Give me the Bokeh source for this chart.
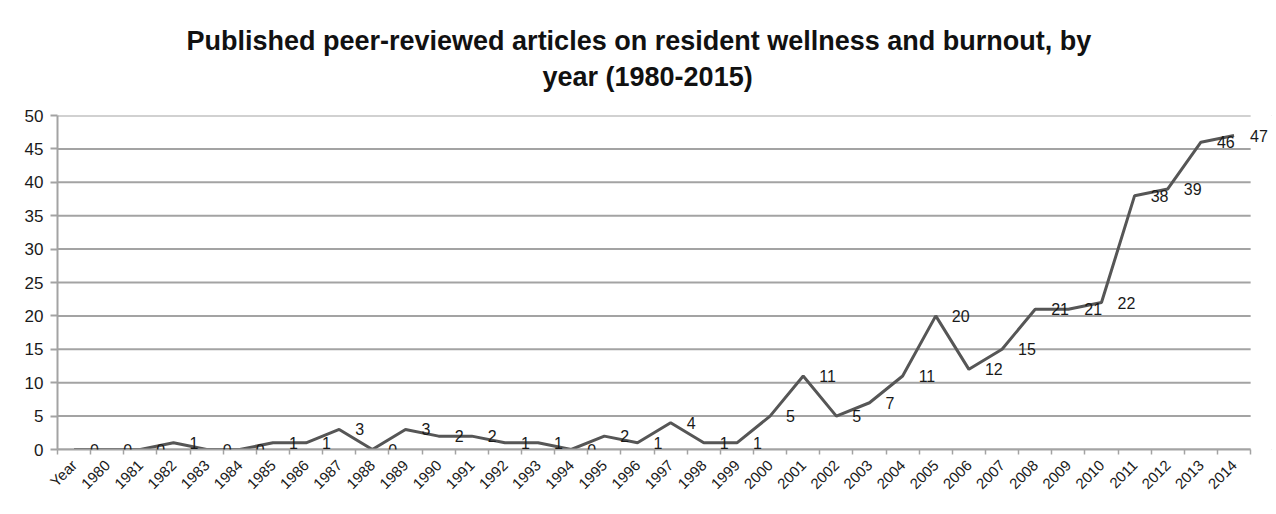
import math
from bokeh.plotting import figure
from bokeh.models import (FixedTicker, CustomJSTickFormatter, Title, ColumnDataSource,
                          Range1d, LabelSet)
from bokeh.embed import file_html
from bokeh.resources import INLINE
from bokeh.core.properties import value

categories = ["Year", "1980", "1981", "1982", "1983", "1984", "1985", "1986", "1987",
              "1988", "1989", "1990", "1991", "1992", "1993", "1994", "1995", "1996",
              "1997", "1998", "1999", "2000", "2001", "2002", "2003", "2004", "2005",
              "2006", "2007", "2008", "2009", "2010", "2011", "2012", "2013", "2014"]
counts = [0, 0, 0, 1, 0, 0, 1, 1, 3, 0, 3, 2, 2, 1, 1, 0, 2, 1, 4, 1, 1, 5, 11, 5, 7,
          11, 20, 12, 15, 21, 21, 22, 38, 39, 46, 47]
y_ticks = [0, 5, 10, 15, 20, 25, 30, 35, 40, 45, 50]
title_line1 = "Published peer-reviewed articles on resident wellness and burnout, by"
title_line2 = "year (1980-2015)"

n = len(categories)
centers = [i + 0.5 for i in range(n)]
src = ColumnDataSource(dict(x=centers, y=counts, lbl=[str(c) for c in counts]))
grid_src = ColumnDataSource(dict(x0=[0] * len(y_ticks), x1=[n] * len(y_ticks),
                                 y=y_ticks))

FONT = "Liberation Sans"
GRID = "#a3a3a3"
TXT = "#1a1a1a"

# frame: x 57..1272 px, y 115..449 px ; one category ~33.14 px
p = figure(width=1276, height=514, x_range=Range1d(0, n + 0.66), y_range=Range1d(0, 50),
           output_backend="svg", toolbar_location=None,
           min_border_left=57, min_border_right=4, min_border_top=115,
           min_border_bottom=65)
p.outline_line_color = None
p.background_fill_color = "white"
p.border_fill_color = "white"
p.styles = {"outline": "1px solid #c8c8c8", "outline-offset": "-5px"}

# titles
p.title.text = title_line1
p.title.align = "left"
p.title.offset = 129
p.title.text_font = FONT
p.title.text_font_size = "27px"
p.title.text_font_style = "bold"
p.title.text_color = "#111111"
p.title.standoff = -40
t2 = Title(text=title_line2, align="left", offset=485, text_font=FONT,
           text_font_size="27px", text_font_style="bold", text_color="#111111",
           standoff=48)
p.add_layout(t2, "above")

# horizontal gridlines limited to the category span
p.segment(x0="x0", x1="x1", y0="y", y1="y", source=grid_src, line_color=GRID,
          line_width=2)

# line + labels
p.line("x", "y", source=src, line_color="#565656", line_width=3)
labels = LabelSet(x="x", y="y", text="lbl", source=src, x_offset=16,
                  text_align="left", text_baseline="middle",
                  text_font=value(FONT), text_font_size="16px", text_color=TXT)
p.add_layout(labels)

# y axis
p.yaxis.ticker = FixedTicker(ticks=y_ticks)
p.yaxis.axis_line_color = GRID
p.yaxis.axis_line_width = 2
p.yaxis.major_tick_line_color = GRID
p.yaxis.major_tick_line_width = 2
p.yaxis.major_tick_out = 7
p.yaxis.major_tick_in = 0
p.yaxis.minor_tick_line_color = None
p.yaxis.major_label_text_font = FONT
p.yaxis.major_label_text_font_size = "17px"
p.yaxis.major_label_text_color = TXT
p.yaxis.major_label_standoff = 7

# x axis
p.xaxis.bounds = (0, n)
p.xaxis.ticker = FixedTicker(ticks=centers, minor_ticks=list(range(n + 1)))
p.xaxis.formatter = CustomJSTickFormatter(args=dict(labels=categories),
                                          code="return labels[Math.floor(tick)];")
p.xaxis.axis_line_color = GRID
p.xaxis.axis_line_width = 2
p.xaxis.major_tick_line_color = None
p.xaxis.major_tick_out = 0
p.xaxis.minor_tick_line_color = GRID
p.xaxis.minor_tick_line_width = 1.5
p.xaxis.minor_tick_out = 5
p.xaxis.minor_tick_in = 0
p.xaxis.major_label_orientation = math.pi / 4
p.xaxis.major_label_text_font = FONT
p.xaxis.major_label_text_font_size = "15px"
p.xaxis.major_label_text_color = TXT
p.xaxis.major_label_standoff = 8

# grid
p.xgrid.grid_line_color = None
p.ygrid.grid_line_color = None

open("out.html", "w").write(file_html(p, INLINE))
